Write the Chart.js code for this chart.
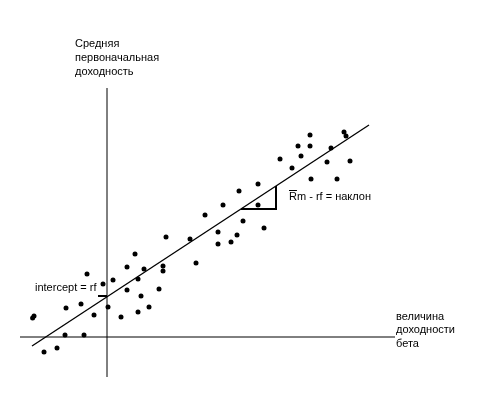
<!DOCTYPE html>
<html>
<head>
<meta charset="utf-8">
<script src="https://cdn.jsdelivr.net/npm/chart.js@4/dist/chart.umd.min.js"></script>
<style>
  html, body { margin: 0; padding: 0; background: #ffffff; }
  #wrap { width: 502px; height: 398px; }
</style>
</head>
<body>
<div id="wrap"><canvas id="c" width="502" height="398"></canvas></div>
<script>
// Scatter of securities: beta (x) vs average initial return (y)
const betaValues = [
  -3.65, -3.72, -3.15, -2.5, -2.1, -2.05, -1.3, -1.15, -1.0, -0.65, -0.2,
  0.05, 0.3, 0.7, 1.0, 1.0, 1.4, 1.55, 1.7, 1.55, 1.85,
  2.1, 2.6, 2.8, 2.8, 2.95, 4.15, 4.45, 4.9, 5.55, 5.55,
  5.8, 6.2, 6.5, 6.6, 6.8, 7.55, 7.85, 7.55, 8.65, 9.25,
  10.2, 9.55, 9.7, 10.15, 10.15, 11.2, 11.0, 11.5, 11.85, 11.95,
  12.15
];
const returnValues = [
  1.05, 0.95, -0.75, -0.55, 0.1, 1.45, 1.65, 0.1, 3.15, 1.1, 2.65,
  1.5, 2.85, 1.0, 2.35, 3.5, 4.15, 2.9, 2.05, 1.25, 3.4,
  1.5, 2.4, 3.55, 3.3, 5.0, 4.9, 3.7, 6.1, 5.25, 4.65,
  6.6, 4.75, 5.1, 7.3, 5.8, 6.6, 5.45, 7.65, 8.9, 8.45,
  7.9, 9.55, 9.05, 9.55, 10.1, 9.45, 8.75, 7.9, 10.25, 10.05,
  8.8
];

// Fitted line (security market line) end points
const fitX = [-3.75, 13.1];
const fitY = [-0.45, 10.6];

// Axes extents
const vAxisX = [0, 0];
const vAxisY = [-2.0, 12.45];
const hAxisX = [-4.35, 14.4];
const hAxisY = [0, 0];

// Slope triangle
const triX = [6.7, 8.45, 8.45];
const triY = [6.4, 6.4, 7.55];

// Intercept marker
const icptX = [-0.45, 0];
const icptY = [2.05, 2.05];

// Text labels
const yTitleLines = ['Средняя', 'первоначальная', 'доходность'];
const xTitleLines = ['величина', 'доходности', 'бета'];
const interceptLabel = 'intercept = rf';
const slopeLabel = 'Rm - rf = наклон';

function pts(xs, ys) { return xs.map((x, i) => ({ x: x, y: ys[i] })); }

const lineStyle = { showLine: true, borderColor: '#000', borderWidth: 1.3, pointRadius: 0, fill: false, tension: 0 };

const textPlugin = {
  id: 'texts',
  afterDatasetsDraw(chart) {
    const ctx = chart.ctx;
    const sx = chart.scales.x, sy = chart.scales.y;
    ctx.save();
    ctx.fillStyle = '#000';
    ctx.font = '11px "Liberation Sans", Arial, sans-serif';
    ctx.textBaseline = 'alphabetic';
    ctx.textAlign = 'left';
    // y-axis title
    yTitleLines.forEach((t, i) => {
      ctx.fillText(t, sx.getPixelForValue(-1.6), sy.getPixelForValue(14.5) + i * 14);
    });
    // x-axis title
    xTitleLines.forEach((t, i) => {
      ctx.fillText(t, sx.getPixelForValue(14.45), sy.getPixelForValue(0.875) + i * 13.5);
    });
    // intercept label
    ctx.fillText(interceptLabel, sx.getPixelForValue(-3.6), sy.getPixelForValue(2.3));
    // slope label with bar over R
    const lx = sx.getPixelForValue(9.1), ly = sy.getPixelForValue(6.85);
    ctx.fillText(slopeLabel, lx, ly);
    const rw = ctx.measureText('R').width;
    ctx.strokeStyle = '#000';
    ctx.lineWidth = 1;
    ctx.beginPath();
    ctx.moveTo(lx, Math.round(ly - 10.5) + 0.5);
    ctx.lineTo(lx + rw, Math.round(ly - 10.5) + 0.5);
    ctx.stroke();
    ctx.restore();
  }
};

new Chart(document.getElementById('c'), {
  type: 'scatter',
  data: {
    datasets: [
      Object.assign({ data: pts(vAxisX, vAxisY) }, lineStyle, { borderWidth: 1 }),
      Object.assign({ data: pts(hAxisX, hAxisY) }, lineStyle, { borderWidth: 1 }),
      Object.assign({ data: pts(fitX, fitY) }, lineStyle),
      Object.assign({ data: pts(triX, triY) }, lineStyle, { borderWidth: 2 }),
      Object.assign({ data: pts(icptX, icptY) }, lineStyle, { borderWidth: 2 }),
      {
        data: pts(betaValues, returnValues),
        showLine: false,
        pointRadius: 2.5,
        pointBackgroundColor: '#000',
        pointBorderColor: '#000',
        pointBorderWidth: 0
      }
    ]
  },
  options: {
    responsive: false,
    animation: false,
    devicePixelRatio: 1,
    layout: { padding: 0, autoPadding: false },
    plugins: { legend: { display: false }, tooltip: { enabled: false } },
    scales: {
      x: { type: 'linear', display: false, min: -5.35, max: 19.75 },
      y: { type: 'linear', display: false, min: -3.05, max: 16.85 }
    }
  },
  plugins: [textPlugin]
});
</script>
</body>
</html>
